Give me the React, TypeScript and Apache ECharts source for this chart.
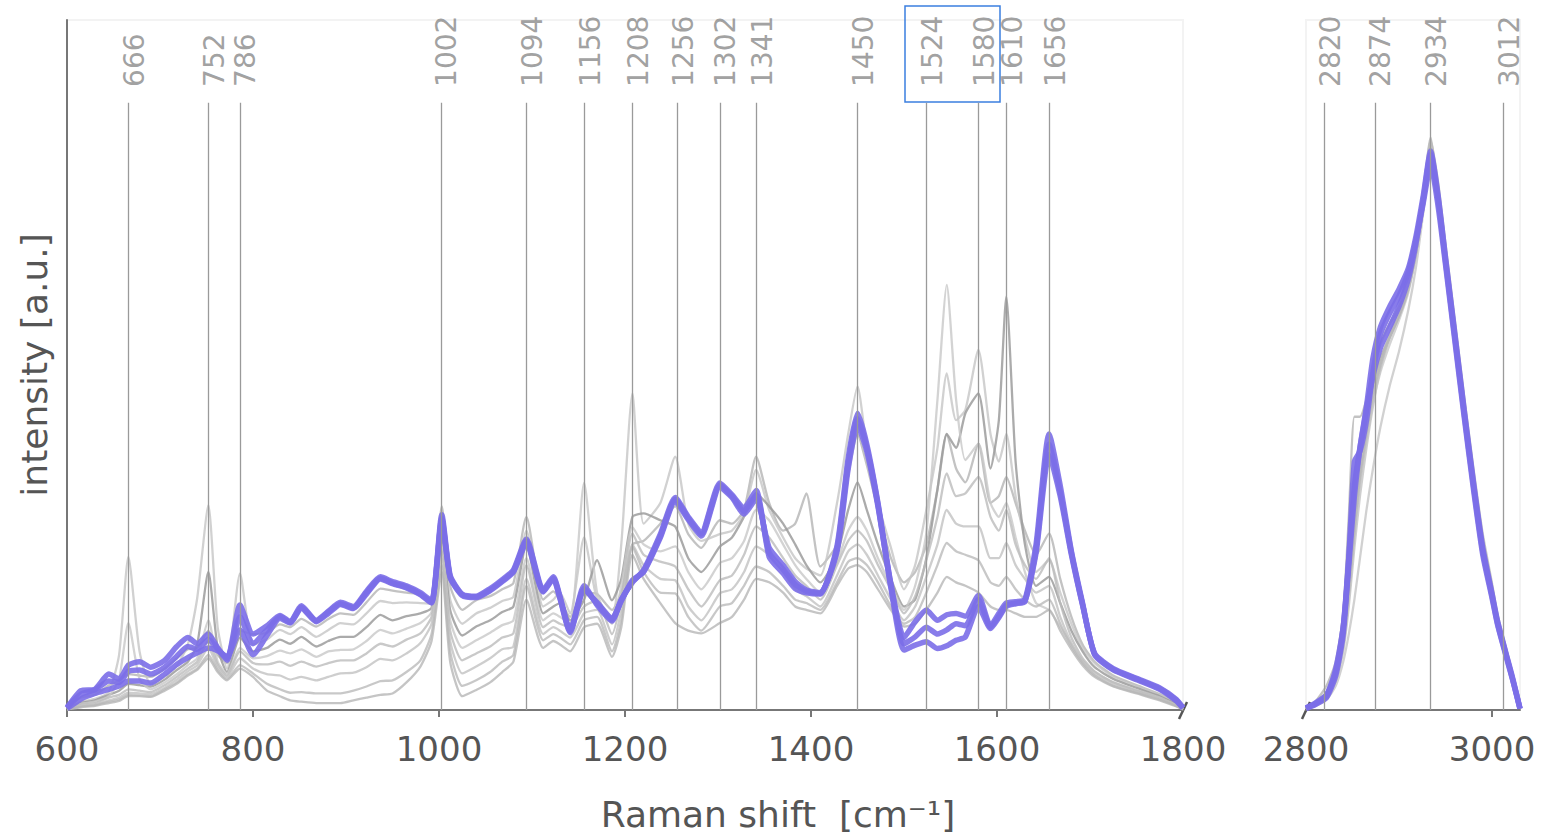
import React, { useEffect, useRef } from "react";
import * as echarts from "echarts";

// ---------- data ----------
const SHIFT_LOW = [
  600, 615, 630, 645, 656, 666, 678, 690, 705, 718,
  730, 740, 752, 762, 772, 786, 800, 815, 829, 840,
  852, 868, 881, 894, 908, 922, 937, 950, 965, 980,
  992, 1003, 1012, 1025, 1040, 1055, 1068, 1080, 1094, 1112,
  1123, 1130, 1141, 1156, 1170, 1186, 1196, 1208, 1220, 1238,
  1254, 1268, 1282, 1302, 1315, 1328, 1341, 1355, 1370, 1383,
  1395, 1410, 1428, 1440, 1450, 1460, 1472, 1486, 1500, 1512,
  1524, 1536, 1546, 1556, 1566, 1580, 1593, 1602, 1610, 1620,
  1630, 1642, 1656, 1668, 1680, 1692, 1705, 1725, 1750, 1775,
  1793, 1800,
];

const PURPLE_LOW_1 = [
  0.3, 2.8, 3.0, 5.2, 4.5, 6.5, 7.0, 6.2, 7.2, 9.2,
  10.5, 9.6, 11.0, 9.0, 7.2, 15.2, 11.0, 12.2, 13.7, 12.8,
  15.1, 13.0, 14.3, 15.6, 15.0, 17.2, 19.3, 18.6, 18.0, 17.0,
  15.8, 28.3, 19.5, 16.8, 16.5, 17.6, 18.9, 20.3, 24.8, 17.4,
  19.3, 16.5, 11.5, 18.0, 15.2, 12.9, 16.0, 18.5, 20.3, 25.5,
  30.8, 28.0, 25.8, 32.9, 31.2, 29.3, 31.8, 22.2, 19.8, 17.6,
  17.0, 16.8, 23.8, 36.5, 43.0, 38.5, 30.0, 18.2, 10.5, 12.8,
  14.5, 13.0, 13.8, 14.0, 13.6, 16.6, 12.2, 14.0, 15.5, 15.7,
  16.0, 24.0, 40.0, 32.5, 23.0, 15.5, 8.0, 5.8, 4.4, 3.0,
  1.3, 0.3,
];
const PURPLE_LOW_2 = [
  0.2, 1.6, 2.4, 3.0, 3.5, 4.2, 4.2, 3.9, 5.2, 6.6,
  7.6, 8.3, 9.0, 8.6, 7.7, 11.6, 8.0, 10.8, 13.3, 12.6,
  14.8, 12.8, 14.0, 15.3, 14.7, 16.8, 19.0, 18.3, 17.7, 16.7,
  15.5, 27.5, 19.2, 16.6, 16.3, 17.3, 18.6, 20.0, 24.2, 17.1,
  19.0, 16.2, 11.2, 17.4, 15.6, 13.3, 15.8, 18.8, 20.0, 25.0,
  30.2, 27.6, 25.2, 32.3, 30.8, 28.4, 30.6, 23.5, 21.0, 18.6,
  17.4, 17.0, 23.0, 35.0, 41.2, 37.5, 29.5, 18.0, 9.6, 10.6,
  12.0, 11.0, 11.6, 12.5, 12.2, 16.0, 12.0, 13.6, 15.2, 15.5,
  15.8, 22.8, 37.0, 31.0, 22.5, 15.2, 8.2, 6.0, 4.6, 3.2,
  1.5, 0.3,
];
const PURPLE_LOW_3 = [
  0.4, 2.3, 2.9, 4.2, 4.0, 5.6, 5.8, 5.2, 6.2, 7.8,
  9.2, 8.8, 10.2, 8.9, 7.5, 13.5, 9.6, 11.6, 13.5, 12.7,
  14.9, 12.9, 14.2, 15.4, 14.8, 17.0, 19.1, 18.4, 17.8, 16.8,
  15.6, 27.8, 19.3, 16.7, 16.4, 17.4, 18.7, 20.1, 24.5, 17.2,
  19.1, 16.3, 11.4, 17.6, 15.4, 13.1, 15.9, 18.6, 20.1, 25.2,
  30.5, 27.8, 25.5, 32.6, 31.0, 28.8, 31.2, 22.8, 20.4, 18.2,
  17.2, 16.9, 23.4, 35.8, 42.2, 38.0, 29.8, 17.6, 8.7, 9.4,
  9.9, 8.9, 9.3, 10.1, 10.6, 15.0, 11.8, 13.4, 15.0, 15.4,
  15.7, 23.2, 38.5, 31.6, 22.8, 15.3, 8.1, 5.9, 4.5, 3.1,
  1.4, 0.3,
];

const GRAY_LOW_1 = [
  0.3, 1.8, 2.2, 3.6, 4.2, 5.2, 5.0, 4.8, 6.0, 7.5,
  8.8, 9.0, 11.5, 8.0, 6.8, 11.5, 11.0, 11.2, 12.4, 12.0,
  13.2, 12.1, 13.2, 14.0, 13.8, 15.6, 17.6, 17.3, 17.0, 16.8,
  16.0, 29.5, 18.0, 14.5, 15.9, 16.5, 17.5, 18.4, 28.0, 16.0,
  17.2, 16.0, 13.5, 17.0, 16.8, 14.5, 17.0, 24.0, 24.5, 27.0,
  29.5, 25.5, 23.5, 27.5, 27.0, 29.0, 36.7, 30.0, 26.0, 27.0,
  31.4, 20.8, 24.0, 34.0, 40.0, 35.5, 29.0, 22.0, 18.5, 20.0,
  24.0, 32.0, 40.0, 35.0, 33.0, 38.6, 30.0, 31.0, 33.8, 30.0,
  26.0, 22.5, 25.6, 19.0, 13.5, 9.5, 7.0, 5.0, 3.6, 2.3,
  1.0, 0.2,
];
const GRAY_LOW_2 = [
  0.2, 1.2, 1.6, 2.6, 8.0, 22.2, 8.5, 3.8, 4.8, 6.4,
  9.5, 16.2, 29.7, 12.0, 6.0, 19.8, 9.5, 10.2, 11.6, 11.0,
  12.0, 10.6, 11.6, 12.6, 12.4, 14.0, 15.8, 15.5, 15.6, 15.5,
  15.4, 27.0, 16.0, 12.5, 14.0, 14.8, 15.8, 16.4, 26.0, 15.0,
  16.0, 17.0, 14.0, 25.0, 16.0, 13.5, 24.0, 45.9, 27.0, 30.0,
  36.7, 27.0, 24.5, 25.5, 26.0, 28.5, 34.8, 29.0, 25.0, 22.0,
  20.5, 19.5, 30.0, 40.0, 46.9, 38.0, 30.0, 23.5, 17.5, 21.0,
  29.0, 38.0, 48.8, 42.0, 43.5, 52.2, 40.0, 36.0, 40.0, 31.0,
  25.0, 20.0, 21.7, 17.0, 12.5, 9.0, 6.8, 4.8, 3.4, 2.1,
  0.9, 0.2,
];
const GRAY_LOW_3 = [
  0.2, 1.0, 1.4, 2.2, 2.8, 3.8, 3.6, 3.4, 4.4, 5.8,
  7.0, 9.5, 20.0, 9.0, 5.5, 10.5, 8.5, 9.0, 10.2, 9.6,
  10.6, 9.2, 10.0, 10.6, 10.6, 12.0, 13.8, 13.0, 13.6, 14.0,
  14.8, 25.0, 14.5, 10.8, 12.1, 13.0, 14.2, 15.0, 24.0, 14.0,
  15.0, 15.5, 13.0, 16.0, 21.7, 15.9, 19.0, 28.0, 28.5, 27.5,
  26.6, 22.0, 20.0, 23.7, 25.0, 28.0, 31.4, 29.5, 27.0, 24.0,
  21.0, 18.5, 22.5, 29.0, 33.0, 29.0, 24.0, 19.0, 15.0, 16.0,
  22.0, 32.0, 40.0, 38.0, 43.0, 45.9, 35.0, 42.0, 59.9, 36.0,
  24.0, 18.0, 19.3, 15.5, 11.5, 8.5, 6.2, 4.5, 3.2, 2.0,
  0.8, 0.2,
];
const GRAY_LOW_4 = [
  0.2, 0.9, 1.2, 2.0, 4.5, 12.6, 4.5, 3.0, 4.0, 5.2,
  6.5, 7.5, 13.0, 7.0, 5.3, 9.0, 7.5, 7.8, 8.6, 8.2,
  8.8, 7.7, 8.5, 8.7, 8.8, 10.0, 11.6, 11.1, 11.8, 12.6,
  14.2, 24.0, 13.0, 9.0, 10.1, 11.2, 12.3, 13.0, 22.0, 13.0,
  14.0, 13.5, 12.5, 32.9, 17.0, 12.5, 18.0, 26.5, 24.0, 23.0,
  23.7, 20.0, 17.5, 21.3, 22.0, 24.5, 29.0, 27.5, 24.0, 21.0,
  19.0, 17.0, 21.5, 26.0, 28.0, 26.0, 22.0, 18.0, 14.5, 18.0,
  25.6, 45.0, 61.6, 45.0, 36.2, 38.6, 30.0, 28.0, 30.0, 25.0,
  20.0, 15.5, 14.5, 12.0, 9.5, 7.2, 5.5, 4.0, 2.9, 1.8,
  0.7, 0.2,
];
const GRAY_LOW_5 = [
  0.1, 0.8, 1.0, 1.8, 2.2, 3.0, 2.8, 2.6, 3.6, 4.8,
  6.0, 7.0, 10.0, 6.6, 5.0, 8.5, 6.8, 6.6, 7.0, 6.4,
  7.0, 6.3, 6.8, 7.2, 7.2, 8.2, 9.6, 9.2, 10.2, 11.1,
  13.5, 23.0, 11.5, 7.2, 8.2, 9.2, 10.5, 11.1, 21.0, 12.0,
  13.0, 12.5, 12.0, 15.0, 15.9, 11.0, 16.0, 25.6, 22.5, 21.5,
  20.8, 17.5, 15.0, 18.8, 19.5, 22.5, 26.6, 25.0, 22.0, 19.5,
  18.0, 16.0, 21.0, 24.5, 26.0, 24.5, 21.0, 17.5, 14.0, 16.5,
  21.7, 28.0, 34.3, 31.0, 31.4, 33.8, 28.0, 26.0, 29.0, 24.0,
  21.0, 19.0, 22.0, 15.5, 10.5, 7.5, 5.6, 4.0, 2.8, 1.7,
  0.7, 0.1,
];
const GRAY_LOW_6 = [
  0.1, 0.6, 0.8, 1.4, 1.8, 2.5, 2.4, 2.3, 3.2, 4.4,
  5.6, 6.5, 9.0, 6.2, 4.8, 7.5, 6.0, 5.2, 5.0, 4.4,
  4.8, 4.3, 4.8, 5.3, 5.4, 6.2, 7.4, 7.2, 8.2, 9.7,
  12.5, 22.0, 10.0, 5.3, 6.3, 7.5, 8.8, 9.2, 19.0, 11.0,
  12.0, 11.5, 10.5, 14.0, 14.5, 9.5, 14.5, 24.0, 21.0, 19.0,
  18.8, 15.0, 13.0, 16.9, 17.5, 20.0, 23.7, 22.5, 20.0, 17.5,
  16.5, 15.0, 19.5, 23.0, 24.0, 22.5, 19.5, 16.0, 13.0, 15.0,
  19.3, 24.0, 29.0, 27.0, 26.6, 26.6, 22.0, 22.0, 24.2, 21.0,
  19.0, 17.0, 18.0, 13.5, 9.7, 7.0, 5.2, 3.7, 2.6, 1.6,
  0.6, 0.1,
];
const GRAY_LOW_7 = [
  0.1, 0.5, 0.7, 1.2, 1.5, 2.2, 2.1, 2.0, 3.0, 4.0,
  5.2, 6.0, 8.0, 5.8, 4.5, 6.5, 5.3, 3.8, 3.0, 2.5,
  2.6, 2.4, 2.4, 2.4, 2.8, 3.4, 4.2, 4.3, 5.5, 7.2,
  11.0, 21.0, 8.5, 3.5, 4.3, 5.5, 7.0, 8.0, 18.0, 10.1,
  11.0, 10.5, 9.5, 13.0, 13.5, 8.5, 13.0, 23.7, 20.0, 17.0,
  16.9, 13.5, 11.5, 15.0, 15.5, 18.0, 20.8, 20.0, 18.0, 16.0,
  15.5, 14.5, 18.5, 21.5, 22.0, 21.0, 18.5, 15.0, 12.5, 13.5,
  17.0, 21.0, 24.2, 23.0, 22.5, 21.7, 18.5, 18.0, 19.3, 17.5,
  16.0, 15.0, 16.0, 12.5, 9.2, 6.8, 5.0, 3.5, 2.5, 1.5,
  0.6, 0.1,
];
const GRAY_LOW_8 = [
  0.1, 0.4, 0.6, 1.0, 1.3, 2.0, 2.0, 1.9, 2.8, 3.8,
  5.0, 5.8, 7.5, 5.5, 4.3, 6.0, 4.8, 2.8, 2.0, 1.4,
  1.2, 1.0, 1.0, 1.0, 1.4, 1.8, 2.2, 2.4, 4.0, 6.3,
  10.0, 20.0, 7.0, 2.0, 2.9, 4.0, 5.5, 7.0, 16.0, 9.0,
  10.0, 9.5, 8.5, 12.0, 12.5, 7.7, 12.0, 22.5, 19.0, 15.5,
  12.6, 11.5, 11.1, 12.6, 13.5, 16.0, 19.0, 18.5, 17.0, 15.0,
  14.5, 14.0, 18.0, 20.5, 21.0, 20.0, 17.5, 14.5, 12.1, 12.5,
  14.5, 17.0, 19.3, 18.5, 18.0, 17.0, 15.0, 14.5, 14.5, 14.0,
  13.5, 13.5, 14.5, 11.5, 8.8, 6.5, 4.8, 3.4, 2.4, 1.4,
  0.5, 0.1,
];

const SHIFT_HIGH = [
  2800, 2810, 2822, 2832, 2840, 2846, 2852, 2858, 2865, 2872,
  2880, 2890, 2900, 2910, 2918, 2926, 2934, 2942, 2950, 2960,
  2970, 2980, 2990, 3000, 3006, 3015, 3022, 3030,
];
const PURPLE_HIGH_1 = [0.3, 0.9, 2.0, 6.0, 12.0, 22.0, 32.5, 38.0, 43.5, 48.5, 52.5, 55.5, 58.5, 62.5, 67.5, 74.0, 80.5, 74.0, 65.0, 54.0, 43.0, 32.5, 23.0, 16.5, 12.5, 8.0, 4.5, 0.2];
const PURPLE_HIGH_2 = [0.2, 0.8, 1.8, 5.0, 11.0, 22.0, 36.0, 37.5, 42.0, 49.0, 54.5, 57.5, 60.0, 63.5, 68.0, 73.5, 79.0, 73.0, 64.5, 53.5, 42.5, 32.0, 22.5, 16.2, 12.3, 7.8, 4.4, 0.2];
const PURPLE_HIGH_3 = [0.3, 1.0, 2.2, 5.5, 12.0, 21.0, 31.0, 38.0, 44.0, 51.0, 55.5, 58.5, 61.0, 64.0, 68.5, 74.5, 81.0, 74.5, 65.5, 54.5, 43.5, 33.0, 23.5, 16.8, 12.8, 8.2, 4.7, 0.2];
const GRAY_HIGH_1 = [0.2, 1.2, 3.5, 7.0, 14.0, 28.0, 42.5, 42.5, 45.0, 49.0, 53.0, 56.0, 58.5, 62.0, 67.0, 75.0, 83.0, 75.0, 66.0, 55.0, 44.0, 33.0, 23.5, 17.0, 13.0, 8.3, 4.8, 0.2];
const GRAY_HIGH_2 = [0.2, 0.6, 1.5, 3.5, 7.0, 11.0, 16.0, 22.0, 29.0, 35.0, 41.0, 47.0, 52.0, 58.0, 64.0, 72.0, 80.0, 74.0, 65.5, 55.0, 44.0, 33.5, 24.0, 17.2, 13.2, 8.5, 5.0, 0.2];
const GRAY_HIGH_3 = [0.3, 1.0, 2.5, 5.0, 10.0, 18.0, 28.0, 36.0, 42.0, 47.0, 51.0, 54.0, 57.0, 61.0, 66.0, 73.0, 81.5, 75.5, 66.5, 55.5, 44.5, 34.0, 24.5, 17.5, 13.3, 8.6, 5.0, 0.2];
const GRAY_HIGH_4 = [0.2, 0.8, 2.0, 4.5, 9.0, 16.0, 25.0, 33.0, 39.0, 44.5, 49.0, 53.0, 56.5, 60.5, 66.0, 73.5, 82.0, 76.0, 67.0, 56.0, 45.0, 34.5, 25.0, 18.0, 13.5, 8.8, 5.1, 0.2];
const GRAY_HIGH_5 = [0.3, 1.1, 2.6, 6.0, 12.5, 21.0, 30.0, 37.0, 43.0, 49.0, 53.5, 56.0, 58.0, 61.5, 67.0, 74.0, 80.0, 74.0, 65.0, 54.5, 43.5, 33.0, 23.5, 17.0, 12.8, 8.2, 4.8, 0.2];
const GRAY_HIGH_6 = [0.2, 0.7, 1.8, 4.2, 8.5, 15.0, 23.5, 31.0, 38.0, 44.0, 49.5, 54.0, 57.5, 61.5, 66.5, 72.5, 78.0, 73.0, 65.0, 54.5, 44.0, 33.5, 24.0, 17.3, 13.0, 8.4, 4.9, 0.2];
const GRAY_HIGH_7 = [0.2, 0.9, 2.2, 5.0, 10.5, 18.5, 27.5, 34.5, 40.5, 46.0, 50.5, 54.5, 58.0, 62.0, 67.5, 74.5, 82.5, 76.5, 67.5, 56.5, 45.5, 35.0, 25.5, 18.3, 13.8, 9.0, 5.2, 0.2];
const GRAY_HIGH_8 = [0.2, 0.8, 2.0, 4.8, 9.8, 17.0, 26.0, 33.5, 40.0, 45.5, 50.0, 54.0, 57.0, 61.0, 66.0, 73.0, 79.5, 74.5, 66.0, 55.5, 44.5, 34.0, 24.5, 17.6, 13.4, 8.7, 5.0, 0.2];

const PEAKS_LOW = [666, 752, 786, 1002, 1094, 1156, 1208, 1256, 1302, 1341, 1450, 1524, 1580, 1610, 1656];
const PEAKS_HIGH = [2820, 2874, 2934, 3012];
const TICKS_LOW = [600, 800, 1000, 1200, 1400, 1600, 1800];
const TICKS_HIGH = [2800, 3000];

// ---------- styles ----------
const FONT = "DejaVu Sans";
const PURPLE = "#7b6ee8";
const GRAY_STYLES = [
  { color: "#b4b4b4", opacity: 0.8 },
  { color: "#c6c6c6", opacity: 0.8 },
  { color: "#9c9c9c", opacity: 0.85 },
  { color: "#c8c8c8", opacity: 0.8 },
  { color: "#bcbcbc", opacity: 0.8 },
  { color: "#c2c2c2", opacity: 0.8 },
  { color: "#bababa", opacity: 0.8 },
  { color: "#b6b6b6", opacity: 0.8 },
];
const LINE_TOP = 88; // top end of the peak marker lines (axis units)
const LABEL_BASE = 90.3; // lower end of the rotated peak labels (axis units)

const GRAY_LOW = [GRAY_LOW_1, GRAY_LOW_2, GRAY_LOW_3, GRAY_LOW_4, GRAY_LOW_5, GRAY_LOW_6, GRAY_LOW_7, GRAY_LOW_8];
const GRAY_HIGH = [GRAY_HIGH_1, GRAY_HIGH_2, GRAY_HIGH_3, GRAY_HIGH_4, GRAY_HIGH_5, GRAY_HIGH_6, GRAY_HIGH_7, GRAY_HIGH_8];
const PURPLE_LOW = [PURPLE_LOW_1, PURPLE_LOW_2, PURPLE_LOW_3];
const PURPLE_HIGH = [PURPLE_HIGH_1, PURPLE_HIGH_2, PURPLE_HIGH_3];

function pairs(xs: number[], ys: number[]) {
  return xs.map((x, i) => [x, ys[i]]);
}

function peakSeries(peaks: number[], axis: number) {
  return {
    type: "scatter",
    xAxisIndex: axis,
    yAxisIndex: axis,
    z: 1,
    silent: true,
    symbolSize: 1,
    itemStyle: { color: "rgba(0,0,0,0)" },
    data: peaks.map((p) => [p, LABEL_BASE]),
    label: {
      show: true,
      position: "inside",
      rotate: 90,
      align: "left",
      verticalAlign: "middle",
      offset: [0, 6],
      formatter: (p: any) => String(p.value[0]),
      fontSize: 28,
      fontFamily: FONT,
      color: "#888888",
    },
    markLine: {
      silent: true,
      symbol: ["none", "none"],
      label: { show: false },
      lineStyle: { color: "#9a9a9a", width: 1.3, type: "solid", opacity: 1 },
      emphasis: { disabled: true },
      data: peaks.map((p) => [{ coord: [p, 0] }, { coord: [p, LINE_TOP] }]),
    },
  };
}

function lineSeries(xs: number[], ys: number[], axis: number, color: string, width: number, opacity: number, z: number) {
  return {
    type: "line",
    xAxisIndex: axis,
    yAxisIndex: axis,
    z,
    silent: true,
    symbol: "none",
    showSymbol: false,
    smooth: 0.2,
    lineStyle: { color, width, opacity },
    data: pairs(xs, ys),
  };
}

function xAxisCfg(grid: number, min: number, max: number, ticks: number[], tickMarks: number[]) {
  return {
    type: "value",
    gridIndex: grid,
    min,
    max,
    interval: 200,
    axisLine: { show: true, lineStyle: { color: "#777", width: 2 } },
    axisTick: { show: true, length: 7, customValues: tickMarks, lineStyle: { color: "#777", width: 2 } },
    axisLabel: {
      show: true,
      customValues: ticks,
      fontSize: 34,
      color: "#555",
      margin: 22,
      fontFamily: FONT,
      formatter: (v: number) => String(v),
    },
    splitLine: { show: false },
  };
}

export default function App() {
  const ref = useRef<HTMLDivElement>(null);
  useEffect(() => {
    if (!ref.current) return;
    const chart = echarts.init(ref.current, null, { renderer: "svg" });
    const series: any[] = [peakSeries(PEAKS_LOW, 0), peakSeries(PEAKS_HIGH, 1)];
    GRAY_LOW.forEach((g, i) => series.push(lineSeries(SHIFT_LOW, g, 0, GRAY_STYLES[i].color, 2.3, GRAY_STYLES[i].opacity, 2)));
    GRAY_HIGH.forEach((g, i) => series.push(lineSeries(SHIFT_HIGH, g, 1, GRAY_STYLES[i].color, 2.3, GRAY_STYLES[i].opacity, 2)));
    PURPLE_LOW.forEach((p) => series.push(lineSeries(SHIFT_LOW, p, 0, PURPLE, 5.5, 0.9, 3)));
    PURPLE_HIGH.forEach((p) => series.push(lineSeries(SHIFT_HIGH, p, 1, PURPLE, 5.5, 0.9, 3)));

    chart.setOption({
      animation: false,
      backgroundColor: "#ffffff",
      grid: [
        { left: 67, top: 20, width: 1116, height: 690, show: true, borderColor: "#f3f3f3", borderWidth: 2, backgroundColor: "transparent" },
        { left: 1306, top: 20, width: 214, height: 690, show: true, borderColor: "#f3f3f3", borderWidth: 2, backgroundColor: "transparent" },
      ],
      xAxis: [
        xAxisCfg(0, 600, 1800, TICKS_LOW, TICKS_LOW.slice(0, -1)),
        xAxisCfg(1, 2800, 3030, TICKS_HIGH, TICKS_HIGH.slice(1)),
      ],
      yAxis: [
        {
          type: "value",
          gridIndex: 0,
          min: 0,
          max: 100,
          axisLine: { show: true, lineStyle: { color: "#777", width: 2 } },
          axisTick: { show: false },
          axisLabel: { show: false },
          splitLine: { show: false },
        },
        {
          type: "value",
          gridIndex: 1,
          min: 0,
          max: 100,
          axisLine: { show: false },
          axisTick: { show: false },
          axisLabel: { show: false },
          splitLine: { show: false },
        },
      ],
      graphic: [
        {
          type: "text",
          x: 778,
          y: 814,
          style: {
            text: "Raman shift  [cm⁻¹]",
            fontSize: 36,
            fontFamily: FONT,
            fill: "#555",
            align: "center",
            verticalAlign: "middle",
          },
        },
        {
          type: "text",
          x: 34,
          y: 365,
          rotation: Math.PI / 2,
          style: {
            text: "intensity [a.u.]",
            fontSize: 36,
            fontFamily: FONT,
            fill: "#555",
            align: "center",
            verticalAlign: "middle",
          },
        },
        {
          type: "rect",
          shape: { x: 905, y: 6, width: 95, height: 96 },
          style: { fill: "none", stroke: "#3b7fe0", lineWidth: 1.5 },
        },
        {
          type: "line",
          shape: { x1: 1179, y1: 719, x2: 1187, y2: 702 },
          style: { stroke: "#555", lineWidth: 2.5 },
        },
        {
          type: "line",
          shape: { x1: 1302, y1: 719, x2: 1310, y2: 702 },
          style: { stroke: "#555", lineWidth: 2.5 },
        },
      ],
      series,
    });
    return () => chart.dispose();
  }, []);
  return (
    <div
      ref={ref}
      style={{ position: "fixed", left: 0, top: 0, width: 1545, height: 837, background: "#fff" }}
    />
  );
}
